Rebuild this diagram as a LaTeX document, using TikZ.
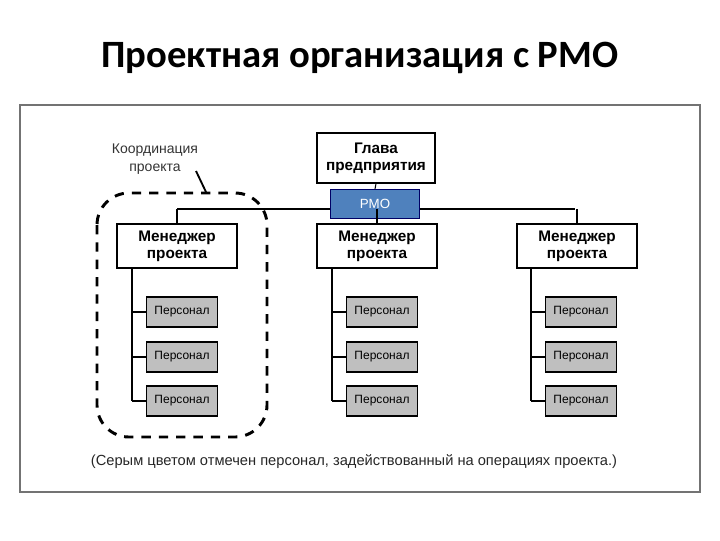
\documentclass[tikz,border=0pt]{standalone}
\usepackage{fontspec}
\setmainfont{Liberation Sans}
\newfontfamily\titlefont{Carlito}
\begin{document}
\begin{tikzpicture}[x=0.75pt,y=-0.75pt,
  boss/.style={draw=black,line width=1.4pt,fill=white,align=center,font=\bfseries\fontsize{11.5}{12.5}\selectfont,inner sep=0pt},
  staff/.style={draw=black,line width=1.2pt,fill=black!25,minimum width=53pt,minimum height=22.5pt,font=\fontsize{9}{10}\selectfont,inner sep=0pt},
  link/.style={line width=0.8pt}]
\useasboundingbox (0,0) rectangle (720,540);
\node[font=\titlefont\bfseries\fontsize{29}{32}\selectfont] (title) at (360,58) {Проектная организация с PMO};
\draw[draw=black!55,line width=1.5pt] (20,105) rectangle (700,492);
\coordinate (hl) at (177,209);
\coordinate (hr) at (575,209);
\draw[link] (hl) -- (hr);
\node[boss,minimum width=88pt,minimum height=37pt] (head) at (376,158) {Глава\\предприятия};
\node[draw=black!60!blue,fill={rgb,255:red,79;green,129;blue,189},minimum width=67pt,minimum height=22pt,text=white,font=\fontsize{10}{11}\selectfont,inner sep=0pt] (pmo) at (375,204) {PMO};
\draw[link] (head.south) -- (pmo.north);
\foreach \n/\x/\vx in {a/177/132,b/377/332,c/577/531}{
  \node[boss,minimum width=90pt,minimum height=33pt] (m\n) at (\x,246) {Менеджер\\проекта};
  \coordinate (t\n) at (\x,209);
  \draw[link] (t\n) -- (m\n.north);
  \coordinate (v\n) at (\vx,401);
  \coordinate (s\n) at (\vx,268);
  \draw[link] (s\n) -- (v\n);
  \foreach \i/\y in {1/312,2/357,3/401}{
    \node[staff] (p\n\i) at (\vx+50,\y) {Персонал};
    \draw[link] (p\n\i.west) -- (\vx,\y);
  }
}
\draw[line width=2.2pt,dash pattern=on 7pt off 6pt,rounded corners=24pt] (97,193) rectangle (267,437);
\node[font=\fontsize{10.5}{13}\selectfont,align=center,text=black!80] (coord) at (155,159) {Координация\\проекта};
\coordinate (ce) at (206,192);
\draw[line width=1.4pt] (196,171) -- (ce);
\node[font=\fontsize{11}{12}\selectfont,text=black!85] (note) at (354,462) {(Серым цветом отмечен персонал, задействованный на операциях проекта.)};
\end{tikzpicture}
\end{document}
